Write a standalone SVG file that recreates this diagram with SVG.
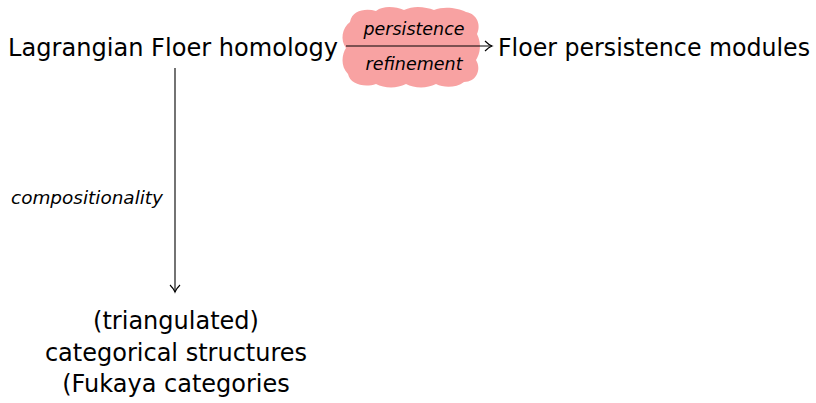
<svg xmlns="http://www.w3.org/2000/svg" width="816" height="403" viewBox="0 0 816 403">
<style>
.n{font-family:"DejaVu Sans","Liberation Sans",sans-serif;font-size:24px;fill:#000}
.l{font-family:"DejaVu Sans","Liberation Sans",sans-serif;font-style:italic;font-size:17px;fill:#000}
.e{stroke:#000;stroke-width:1.1;fill:none}
</style>
<defs>
<marker id="ah" markerWidth="10" markerHeight="12" refX="8" refY="6" orient="auto" markerUnits="userSpaceOnUse">
<path d="M1,1 Q5,5 8,6 Q5,7 1,11" fill="none" stroke="#000" stroke-width="1.1"/>
</marker>
</defs>
<rect width="816" height="403" fill="#fff"/>
<g id="cloud">
<path d="M350,22 C352,10 366,8 376,11 C384,5 396,7 404,10 C414,5 426,7 434,10 C444,6 458,8 466,12 C478,14 481,26 477,34 C482,44 480,54 476,60 C482,70 476,82 464,82 C456,88 444,88 436,84 C426,89 414,88 406,84 C396,89 384,88 376,84 C364,88 350,84 348,74 C340,66 342,54 346,48 C340,40 342,28 350,22 Z" fill="#f8a2a2"/>
</g>
<g id="edges">
<line class="e" x1="346" y1="46" x2="492" y2="46" marker-end="url(#ah)"/>
<line class="e" x1="175" y1="68" x2="175" y2="292" marker-end="url(#ah)"/>
</g>
<g id="edge-labels">
<text class="l" x="414" y="35" text-anchor="middle" textLength="101" lengthAdjust="spacingAndGlyphs">persistence</text>
<text class="l" x="414" y="70" text-anchor="middle" textLength="97" lengthAdjust="spacingAndGlyphs">refinement</text>
<text class="l" x="163" y="204" text-anchor="end" textLength="152" lengthAdjust="spacingAndGlyphs">compositionality</text>
</g>
<g id="lfh"><text class="n" x="173" y="56" text-anchor="middle" textLength="330" lengthAdjust="spacingAndGlyphs">Lagrangian Floer homology</text></g>
<g id="fpm"><text class="n" x="654" y="56" text-anchor="middle" textLength="312" lengthAdjust="spacingAndGlyphs">Floer persistence modules</text></g>
<g id="cat">
<text class="n" x="176" y="329" text-anchor="middle">(triangulated)</text>
<text class="n" x="176" y="361" text-anchor="middle">categorical structures</text>
<text class="n" x="176" y="392" text-anchor="middle">(Fukaya categories</text>
</g>
</svg>
